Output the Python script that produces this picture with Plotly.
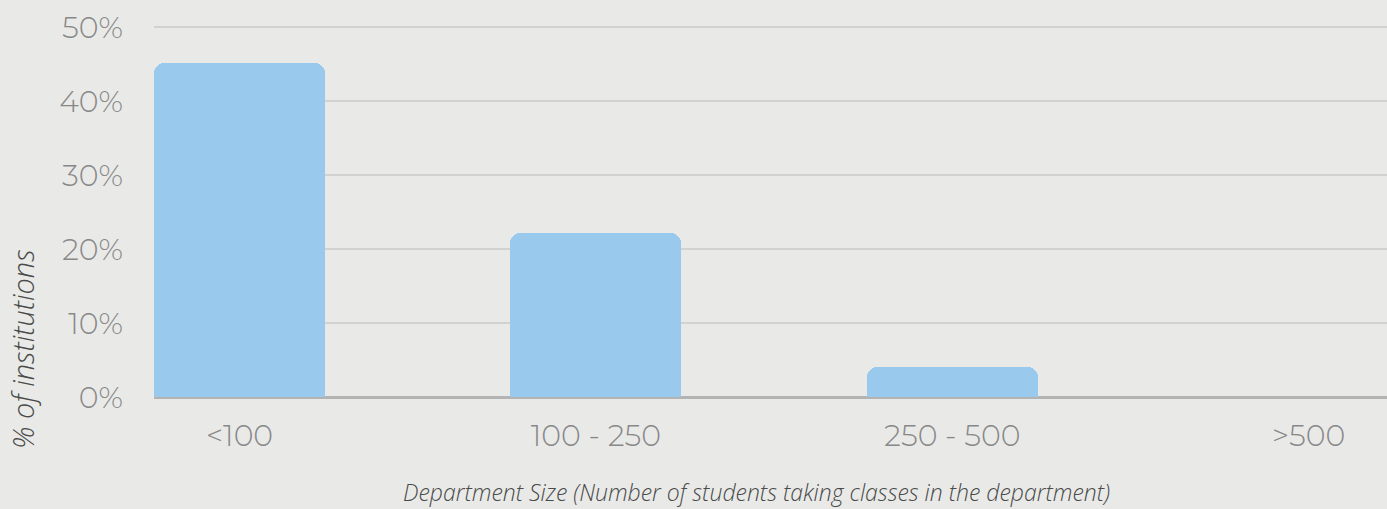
import plotly.graph_objects as go

categories = ["<100", "100 - 250", "250 - 500", ">500"]
share_pct = [45.2, 22.2, 4.1, 0.0]
y_ticks = [0, 10, 20, 30, 40, 50]
y_tick_labels = ["0%", "10%", "20%", "30%", "40%", "50%"]

BG = "#e9eae8"
BAR = "#99caee"
TICK_FONT = {"family": "Montserrat, Lato, sans-serif", "size": 30, "color": "#888888", "weight": 300}
TITLE_FONT = {"family": "Open Sans, sans-serif", "color": "#4a4a4a", "style": "italic", "weight": 300}

fig = go.Figure()
fig.add_bar(
    x=list(range(len(categories))),
    y=share_pct,
    width=0.48,
    marker={"color": BAR, "cornerradius": 10, "line": {"width": 0}},
    hovertemplate="%{y}%<extra></extra>",
)

fig.update_layout(
    width=1387,
    height=509,
    paper_bgcolor=BG,
    plot_bgcolor=BG,
    margin={"l": 154, "r": 0, "t": 25, "b": 112},
    showlegend=False,
    bargap=0,
    xaxis={
        "tickmode": "array",
        "tickvals": list(range(len(categories))),
        "ticktext": categories,
        "range": [-0.24, 3.22],
        "showgrid": False,
        "showline": False,
        "zeroline": False,
        "tickfont": TICK_FONT,
        "ticks": "outside",
        "ticklen": 12,
        "tickcolor": "rgba(0,0,0,0)",
    },
    yaxis={
        "range": [0, 50.3],
        "tickmode": "array",
        "tickvals": y_ticks,
        "ticktext": y_tick_labels,
        "showgrid": True,
        "gridcolor": "#d2d3d0",
        "gridwidth": 2,
        "zeroline": True,
        "zerolinecolor": "#b3b3b3",
        "zerolinewidth": 3,
        "tickfont": TICK_FONT,
        "ticks": "outside",
        "ticklen": 24,
        "tickcolor": "rgba(0,0,0,0)",
    },
    annotations=[
        {
            "text": "Department Size (Number of students taking classes in the department)",
            "xref": "paper",
            "yref": "paper",
            "x": 0.5,
            "y": -0.255,
            "xanchor": "center",
            "yanchor": "middle",
            "xshift": -14,
            "showarrow": False,
            "font": {**TITLE_FONT, "size": 23},
        },
        {
            "text": "% of institutions",
            "xref": "paper",
            "yref": "paper",
            "x": 0,
            "y": 0.5,
            "xshift": -132,
            "yshift": -138,
            "textangle": -90,
            "xanchor": "center",
            "yanchor": "middle",
            "showarrow": False,
            "font": {**TITLE_FONT, "size": 29},
        },
    ],
)

fig.write_html(
    "out.html",
    config={"displayModeBar": False},
    post_script="document.body.style.margin='0';document.body.style.background='%s';" % BG,
)
